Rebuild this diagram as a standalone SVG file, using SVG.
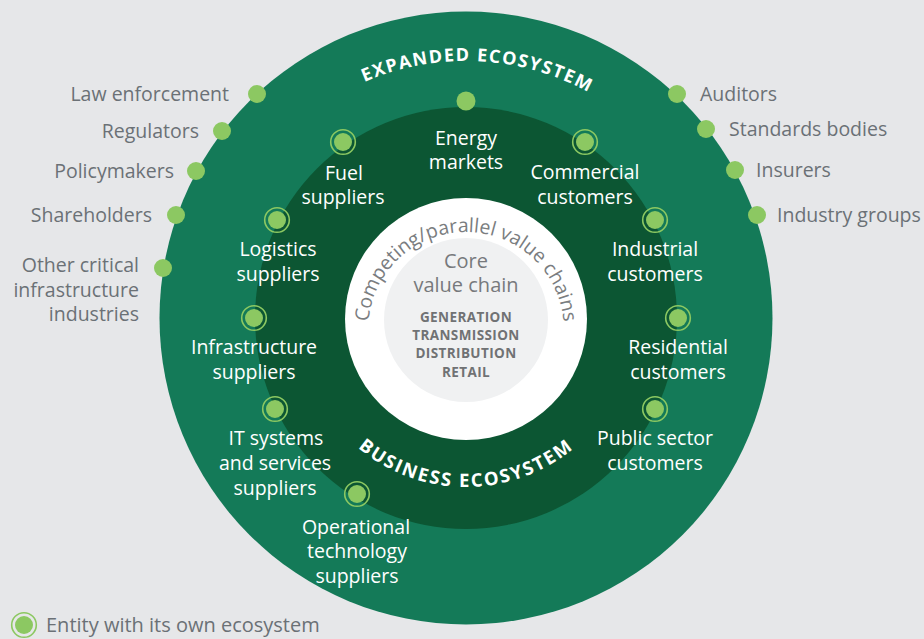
<svg xmlns="http://www.w3.org/2000/svg" width="924" height="639" viewBox="0 0 924 639">
  <style>
    text { font-family: "Open Sans", "Liberation Sans", sans-serif; }
    .out { font-size: 19.5px; fill: #6b7176; }
    .in { font-size: 19.5px; fill: #ffffff; text-anchor: middle; }
    .title { font-size: 18px; font-weight: 700; fill: #ffffff; letter-spacing: 1.5px; }
    .biz { font-size: 18.5px; letter-spacing: 1.9px; }
    .comp { font-size: 19.5px; fill: #7a7d80; }
    .core { font-size: 20px; fill: #77797c; text-anchor: middle; }
    .stage { font-size: 13.5px; font-weight: 700; fill: #707274; text-anchor: middle; letter-spacing: 0.4px; }
    .dot { fill: #8cc862; }
    .ring { fill: none; stroke: #8cc862; stroke-width: 1.6; }
  </style>
  <defs>
    <path id="arcOuter" d="M209,318 A257,257 0 0,1 723,318"/>
    <path id="arcBusiness" d="M297,318 A169,169 0 0,0 635,318"/>
    <path id="arcCompeting" d="M368,330 A98,98 0 0,1 564,330"/>
  </defs>

  <!-- background -->
  <rect width="924" height="639" fill="#e6e7e9"/>

  <!-- rings -->
  <g id="rings">
    <circle cx="466" cy="318" r="306.5" fill="#147a58"/>
    <circle cx="466" cy="318" r="211" fill="#0c5633"/>
    <circle cx="466" cy="319" r="121" fill="#ffffff"/>
    <circle cx="466" cy="320" r="82" fill="#f0f1f2"/>
  </g>

  <!-- ring titles -->
  <g id="titles">
    <text class="title"><textPath href="#arcOuter" startOffset="51.5%" text-anchor="middle">EXPANDED ECOSYSTEM</textPath></text>
    <text class="title biz"><textPath href="#arcBusiness" startOffset="50%" text-anchor="middle">BUSINESS ECOSYSTEM</textPath></text>
    <text class="comp"><textPath href="#arcCompeting" startOffset="50%" text-anchor="middle">Competing/parallel value chains</textPath></text>
  </g>

  <!-- core value chain -->
  <g id="core">
    <text class="core" x="466" y="268">Core</text>
    <text class="core" x="466" y="292">value chain</text>
    <text class="stage" x="466" y="322">GENERATION</text>
    <text class="stage" x="466" y="340">TRANSMISSION</text>
    <text class="stage" x="466" y="358">DISTRIBUTION</text>
    <text class="stage" x="466" y="377">RETAIL</text>
  </g>

  <!-- expanded ecosystem, left side -->
  <g id="law-enforcement">
    <circle class="dot" cx="257" cy="94" r="9"/>
    <text class="out" x="229" y="101" text-anchor="end">Law enforcement</text>
  </g>
  <g id="regulators">
    <circle class="dot" cx="222" cy="131" r="9"/>
    <text class="out" x="199" y="138" text-anchor="end">Regulators</text>
  </g>
  <g id="policymakers">
    <circle class="dot" cx="196" cy="171" r="9"/>
    <text class="out" x="174" y="178" text-anchor="end">Policymakers</text>
  </g>
  <g id="shareholders">
    <circle class="dot" cx="176" cy="215" r="9"/>
    <text class="out" x="152" y="222" text-anchor="end">Shareholders</text>
  </g>
  <g id="other-critical">
    <circle class="dot" cx="163" cy="268" r="9"/>
    <text class="out" x="139" y="272" text-anchor="end">Other critical</text>
    <text class="out" x="139" y="297" text-anchor="end">infrastructure</text>
    <text class="out" x="139" y="321" text-anchor="end">industries</text>
  </g>

  <!-- expanded ecosystem, right side -->
  <g id="auditors">
    <circle class="dot" cx="677" cy="94" r="9"/>
    <text class="out" x="700" y="101">Auditors</text>
  </g>
  <g id="standards-bodies">
    <circle class="dot" cx="706" cy="129" r="9"/>
    <text class="out" x="729" y="136">Standards bodies</text>
  </g>
  <g id="insurers">
    <circle class="dot" cx="735" cy="170" r="9"/>
    <text class="out" x="756" y="177">Insurers</text>
  </g>
  <g id="industry-groups">
    <circle class="dot" cx="757" cy="215" r="9"/>
    <text class="out" x="777" y="222">Industry groups</text>
  </g>

  <!-- business ecosystem -->
  <g id="energy-markets">
    <circle class="dot" cx="466" cy="101" r="9.5"/>
    <text class="in" x="466" y="145">Energy</text>
    <text class="in" x="466" y="169">markets</text>
  </g>
  <g id="fuel-suppliers">
    <circle class="ring" cx="343" cy="142" r="12.3"/>
    <circle class="dot" cx="343" cy="142" r="9"/>
    <text class="in" x="344" y="180">Fuel</text>
    <text class="in" x="343" y="204">suppliers</text>
  </g>
  <g id="commercial-customers">
    <circle class="ring" cx="585" cy="142" r="12.3"/>
    <circle class="dot" cx="585" cy="142" r="9"/>
    <text class="in" x="585" y="179">Commercial</text>
    <text class="in" x="585" y="204">customers</text>
  </g>
  <g id="logistics-suppliers">
    <circle class="ring" cx="277" cy="220" r="12.3"/>
    <circle class="dot" cx="277" cy="220" r="9"/>
    <text class="in" x="278" y="256">Logistics</text>
    <text class="in" x="278" y="281">suppliers</text>
  </g>
  <g id="industrial-customers">
    <circle class="ring" cx="655" cy="220" r="12.3"/>
    <circle class="dot" cx="655" cy="220" r="9"/>
    <text class="in" x="655" y="256">Industrial</text>
    <text class="in" x="655" y="281">customers</text>
  </g>
  <g id="infrastructure-suppliers">
    <circle class="ring" cx="254" cy="318" r="12.3"/>
    <circle class="dot" cx="254" cy="318" r="9"/>
    <text class="in" x="254" y="354">Infrastructure</text>
    <text class="in" x="254" y="379">suppliers</text>
  </g>
  <g id="residential-customers">
    <circle class="ring" cx="678" cy="318" r="12.3"/>
    <circle class="dot" cx="678" cy="318" r="9"/>
    <text class="in" x="678" y="354">Residential</text>
    <text class="in" x="678" y="379">customers</text>
  </g>
  <g id="it-suppliers">
    <circle class="ring" cx="275" cy="409" r="12.3"/>
    <circle class="dot" cx="275" cy="409" r="9"/>
    <text class="in" x="276" y="445">IT systems</text>
    <text class="in" x="275" y="470">and services</text>
    <text class="in" x="275" y="495">suppliers</text>
  </g>
  <g id="public-sector-customers">
    <circle class="ring" cx="655" cy="409" r="12.3"/>
    <circle class="dot" cx="655" cy="409" r="9"/>
    <text class="in" x="655" y="445">Public sector</text>
    <text class="in" x="655" y="470">customers</text>
  </g>
  <g id="ot-suppliers">
    <circle class="ring" cx="357" cy="494" r="12.3"/>
    <circle class="dot" cx="357" cy="494" r="9"/>
    <text class="in" x="356" y="534">Operational</text>
    <text class="in" x="357" y="558">technology</text>
    <text class="in" x="357" y="583">suppliers</text>
  </g>

  <!-- legend -->
  <g id="legend">
    <circle class="ring" cx="24" cy="625" r="12.3"/>
    <circle class="dot" cx="24" cy="625" r="9"/>
    <text class="out" x="46" y="632" style="font-size:20px">Entity with its own ecosystem</text>
  </g>
</svg>
